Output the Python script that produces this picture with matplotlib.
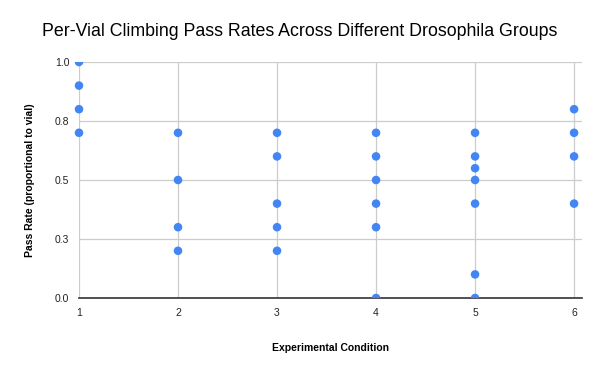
import matplotlib.pyplot as plt
from matplotlib.patches import Rectangle

TITLE = "Per-Vial Climbing Pass Rates Across Different Drosophila Groups"

# pass rate per vial, grouped by experimental condition
cond_1 = [1.0, 0.9, 0.8, 0.7]
cond_2 = [0.7, 0.5, 0.3, 0.2]
cond_3 = [0.7, 0.6, 0.4, 0.3, 0.2]
cond_4 = [0.7, 0.6, 0.5, 0.4, 0.3, 0.0]
cond_5 = [0.7, 0.6, 0.55, 0.5, 0.4, 0.1, 0.0]
cond_6 = [0.8, 0.7, 0.6, 0.4]
groups = [cond_1, cond_2, cond_3, cond_4, cond_5, cond_6]

y_ticks = [0.0, 0.25, 0.5, 0.75, 1.0]
y_tick_labels = ["0.0", "0.3", "0.5", "0.8", "1.0"]

plt.rcParams["font.family"] = ["Liberation Sans", "DejaVu Sans"]

xs, ys = [], []
for i, g in enumerate(groups, start=1):
    xs += [i] * len(g)
    ys += g

fig = plt.figure(figsize=(6, 3.71), dpi=100)
ax = fig.add_axes([79 / 600, 1 - 298 / 371, (581.7 - 79) / 600, (298 - 62) / 371])

sc = ax.scatter(xs, ys, s=38, color="#4285F4", edgecolors="none", zorder=3)
# points at x=1 hang over the left edge, but get cut at the top/bottom edges
sc.set_clip_path(Rectangle((-0.05, 0), 1.1, 1, transform=ax.transAxes))

ax.set_xlim(1, 6.077)
ax.set_ylim(0, 1)
ax.set_xticks(range(1, 7))
ax.set_yticks(y_ticks)
ax.set_yticklabels(y_tick_labels)
ax.grid(True, color="#cccccc", linewidth=0.9, zorder=0)
ax.set_axisbelow(True)

for side in ["top", "right", "left"]:
    ax.spines[side].set_visible(False)
ax.spines["bottom"].set_color("#333333")
ax.spines["bottom"].set_linewidth(1.2)
ax.spines["bottom"].set_zorder(2)
ax.tick_params(length=0, labelsize=7.5, colors="#222222", pad=7)

ax.set_xlabel("Experimental Condition", fontsize=7.5, fontweight="bold", labelpad=18)
ax.set_ylabel("Pass Rate (proportional to vial)", fontsize=7.5, fontweight="bold", labelpad=14)
fig.text(0.5, 1 - 32 / 371, TITLE, ha="center", va="center", fontsize=12.8)

fig.savefig("out.png", dpi=100)
